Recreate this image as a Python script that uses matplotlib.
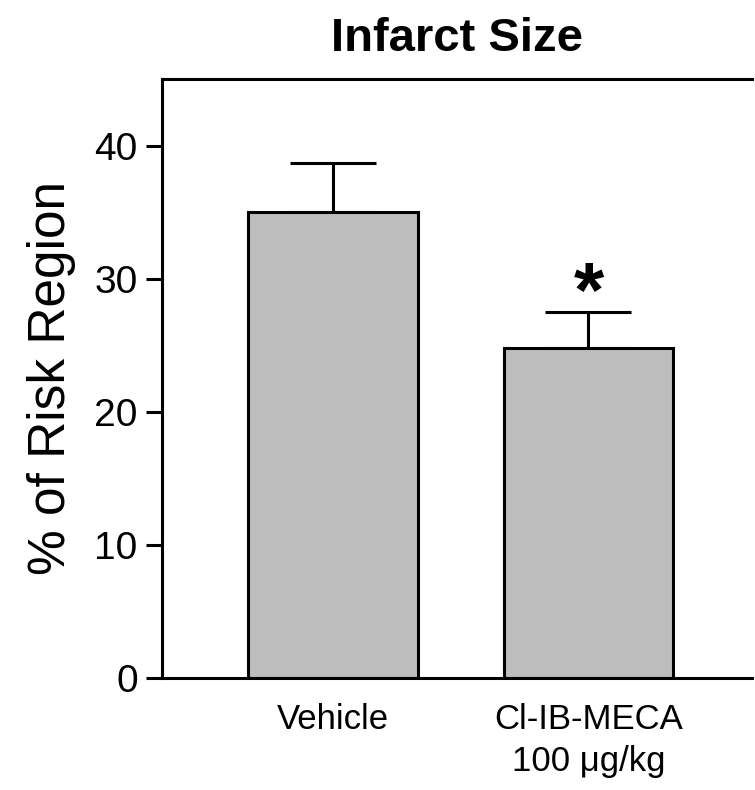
import matplotlib.pyplot as plt

groups = ["Vehicle", "Cl-IB-MECA\n100 μg/kg"]
means = [35.0, 24.8]
sem = [3.7, 2.7]
yticks = [0, 10, 20, 30, 40]

plt.rcParams['font.family'] = ['Liberation Sans', 'DejaVu Sans']

fig = plt.figure(figsize=(7.55, 7.9), dpi=100)
ax = fig.add_axes([0.2146, 0.1422, 0.7814, 0.7578])

x = [0, 1]
ax.bar(x, means, width=0.665, color='#bdbdbd', edgecolor='black', linewidth=2.2, zorder=2)
ax.errorbar(x, means, yerr=[[0, 0], sem], fmt='none', ecolor='black',
            elinewidth=2.2, capsize=31, capthick=2.2, zorder=1)

# significance marker over the treated group
ax.text(1, means[1] + sem[1] - 0.4, '*', ha='center', va='baseline',
        fontsize=56, fontweight='bold')

ax.set_xlim(-0.669, 1.64)
ax.set_ylim(0, 45)
ax.set_xticks(x)
ax.set_xticklabels(groups, fontsize=25, linespacing=1.35)
ax.set_yticks(yticks)
ax.tick_params(axis='y', labelsize=28, length=11.5, width=2.2, pad=6)
ax.tick_params(axis='x', length=0, pad=18)

ax.spines['right'].set_visible(False)
for s in ['left', 'top', 'bottom']:
    ax.spines[s].set_linewidth(2.2)

ax.set_ylabel('% of Risk Region', fontsize=37, labelpad=13)
ax.set_title('Infarct Size', fontsize=34, fontweight='bold', pad=20)

fig.savefig('out.png', dpi=100)
